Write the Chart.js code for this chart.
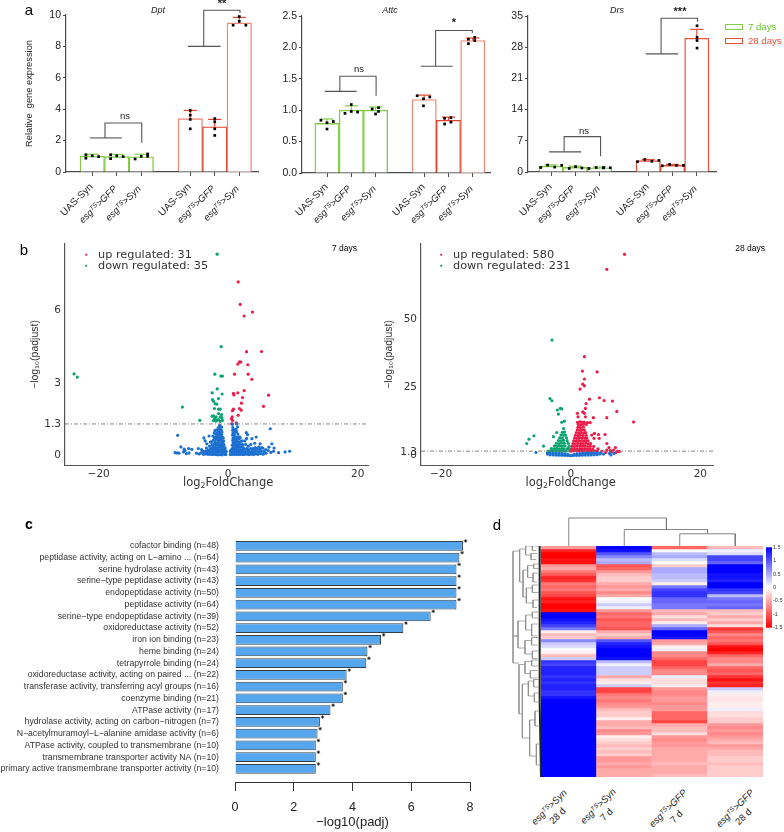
<!DOCTYPE html>
<html>
<head>
<meta charset="utf-8">
<script src="https://cdn.jsdelivr.net/npm/chart.js@4"></script>
<style>
body{margin:0;background:#fff;font-family:"Liberation Sans",sans-serif}
#page{position:relative;width:784px;height:832px;overflow:hidden}
canvas{position:absolute}
.t{position:absolute;white-space:nowrap;line-height:1;color:#222}
.t sup{font-size:.68em;line-height:0;vertical-align:.42em}
.t sub{font-size:.68em;line-height:0;vertical-align:-.25em}
.sw{position:absolute;box-sizing:border-box;border-width:1.5px;border-style:solid}
</style>
</head>
<body>
<div id="page"></div>
<script>
// panel a
const barX = [0, 1, 2, 4, 5, 6];
const barNames = ["UAS-Syn", "esg>GFP", "esg>Syn", "UAS-Syn", "esg>GFP", "esg>Syn"];
const dptBars = [1.0, 0.98, 0.97, 3.4, 2.88, 9.5];
const dptErr = [1.13, 1.12, 1.13, 3.92, 3.35, 9.85];
const dptDots = [[-.26,1.1],[-.26,.88],[0,1.03],[.26,.98],[.75,1.1],[.75,.85],[1,1.03],[1.26,.98],[1.75,.83],[2,1],[2.26,1],[2.26,1.15],[4,3.92],[4,3.62],[4,3.35],[4,2.75],[5,3.4],[5,3.2],[5,2.75],[5,2.33],[5.75,9.35],[6,9.9],[6,9.6],[6.27,9.35]];
const attcBars = [0.79, 1.0, 1.0, 1.17, 0.84, 2.11];
const attcErr = [0.86, 1.07, 1.05, 1.24, 0.89, 2.15];
const attcDots = [[-.25,.84],[0,.8],[0,.7],[.26,.82],[.74,.95],[1,1.09],[1,.98],[1.26,.97],[1.86,1.02],[2.12,1.04],[2.12,.98],[2,.94],[3.71,1.23],[3.97,1.18],[4.23,1.21],[3.97,1.07],[4.84,.87],[5.1,.88],[4.84,.78],[5.1,.81],[5.82,2.13],[6.08,2.16],[5.82,2.06],[6.08,2.11]];
const drsBars = [1.3, 1.05, 0.95, 2.55, 1.5, 30];
const drsErr = [1.6, 1.3, 1.1, 2.8, 1.7, 32];
const drsDots = [[-.42,1],[-.14,1.55],[.15,1.1],[.44,1.5],[.75,.8],[1.01,1.2],[1.27,.9],[1.56,.8],[1.86,1.0],[2.16,1.0],[2.44,.95],[2.16,.9],[3.56,2.3],[3.86,2.8],[4.15,2.4],[4.44,2.6],[4.58,1.4],[4.88,1.7],[5.16,1.5],[5.45,1.5],[6.01,32.8],[6.01,30.2],[6.01,29.5],[6.01,27.8]];

// brackets: base line, then the arm
const dptBrackets = [[[[-.09,2.17],[1.21,2.17]],[[.52,2.17],[.52,3.12],[2.02,3.12],[2.02,1.87]]],[[[3.91,8],[5.24,8]],[[4.55,8],[4.55,10.3],[6.03,10.3],[6.03,10.13]]]];
const attcBrackets = [[[[-.09,1.3],[1.22,1.3]],[[.53,1.3],[.53,1.54],[2.02,1.54],[2.02,1.23]]],[[[3.86,1.7],[5.17,1.7]],[[4.47,1.7],[4.47,2.27],[5.98,2.27],[5.98,2.23]]]];
const drsBrackets = [[[[-.08,4.52],[1.24,4.52]],[[.54,4.52],[.54,7.94],[2.04,7.94],[2.04,3.53]]],[[[3.9,26.5],[5.23,26.5]],[[4.53,26.5],[4.53,34.5],[6.03,34.5],[6.03,33.7]]]];

// panel b, 7 days
const up7 = [[1.55,7.18],[1.86,6.25],[2.47,5.77],[3.76,5.93],[2.84,4.29],[5.15,4.3],[1.75,3.87],[1.96,3.86],[1.49,3.78],[3.04,3.75],[.98,3.36],[3.09,3.36],[3.66,3.15],[2.47,2.68],[.82,2.57],[1.49,2.59],[.88,2.5],[6.24,2.49],[2.22,2.39],[2.06,2.16],[1.75,1.94],[5.46,2.03],[.82,1.91],[.67,1.85],[1.55,1.66],[2.01,1.87],[.62,1.59],[.52,1.52],[1.24,1.34],[.57,1.31],[.67,1.45]];
const down7 = [[-1.7,8.33],[-1.08,4.5],[-2.06,3.36],[-1.13,3.28],[-.88,3.28],[-23.8,3.37],[-23.3,3.24],[-1.7,2.75],[-2.47,2.59],[-.93,2.54],[-1.49,2.35],[-2.42,2.31],[-2.27,2.24],[-2.01,2.14],[-1.75,2.12],[-7.06,2],[-2.11,1.94],[-1.49,1.91],[-1.24,1.91],[-1.49,1.73],[-1.03,1.69],[-2.27,1.63],[-1.86,1.59],[-1.24,1.59],[-2.01,1.52],[-.98,1.56],[-4.38,1.45],[-2.27,1.44],[-1.75,1.45],[-1.49,1.48],[-.88,1.45],[-1.9,1.42],[-1.24,1.41],[-2.1,1.52],[-2.47,1.62]];
const ns7 = [[-.35,.03],[-.42,.11],[-.3,.16],[-.5,.22],[-.45,.3],[-.62,.04],[-.7,.13],[-.66,.24],[-.74,.33],[-.63,.42],[-.78,.5],[-.7,.6],[-.76,.72],[-.95,.02],[-1.02,.12],[-.93,.21],[-1.05,.31],[-.97,.4],[-1.03,.49],[-.94,.59],[-1.06,.68],[-.98,.78],[-1.04,.87],[-.96,.97],[-1.07,1.06],[-1,1.17],[-1.28,.03],[-1.35,.14],[-1.25,.23],[-1.33,.34],[-1.27,.44],[-1.36,.55],[-1.26,.65],[-1.34,.74],[-1.28,.85],[-1.37,.95],[-1.29,1.05],[-1.35,1.15],[-1.3,1.24],[-1.58,.02],[-1.66,.12],[-1.55,.22],[-1.63,.31],[-1.57,.42],[-1.65,.52],[-1.56,.62],[-1.64,.73],[-1.58,.83],[-1.66,.93],[-1.6,1.03],[-1.55,1.14],[-1.88,.03],[-1.96,.13],[-1.85,.23],[-1.94,.33],[-1.87,.43],[-1.97,.54],[-1.89,.66],[-1.95,.76],[-1.9,.88],[-2.2,.04],[-2.28,.14],[-2.18,.25],[-2.26,.36],[-2.21,.47],[-2.5,.03],[-2.58,.12],[-2.46,.2],[-2.55,.3],[-2.49,.42],[-2.8,.05],[-2.88,.15],[-2.76,.26],[-2.9,.38],[-3.1,.04],[-3.2,.13],[-3.05,.22],[-3.4,.06],[-3.5,.18],[-3.35,.3],[-3.8,.04],[-3.9,.16],[-4.2,.1],[-2.95,.8],[-3.75,.72],[-3.55,.6],[-3.3,.48],[-4.6,.28],[-5.6,.25],[-7.8,.83],[-7.3,.35],[-6.8,.26],[-6.1,.28],[-6.45,.07],[-6.05,.1],[-6.65,.2],[-8.2,.11],[-7.6,.09],[-7.9,.1],[-6.9,.14],[-2.6,.55],[-2.3,.62],[-2.15,.72],[-3.6,.07],[-4.1,.24],[-4.5,.06],[-4.9,.09],[-2.35,.8],[-2.15,.92],[-2.05,1.02],[-1.85,1.05],[-2.75,.55],
 [.35,.03],[.42,.1],[.34,.17],[.5,.24],[.62,.04],[.7,.13],[.64,.22],[.74,.32],[.66,.42],[.77,.52],[.7,.62],[.76,.72],[.68,.84],[.75,.94],[.7,1.04],[.72,1.15],[.98,.03],[1.05,.13],[.95,.23],[1.04,.32],[.97,.42],[1.06,.53],[.98,.63],[1.03,.74],[.96,.84],[1.05,.95],[1,1.06],[1.3,.04],[1.37,.14],[1.26,.24],[1.35,.34],[1.28,.44],[1.37,.55],[1.29,.65],[1.36,.76],[1.45,1.18],[1.6,.03],[1.68,.13],[1.57,.23],[1.66,.33],[1.6,.44],[1.68,.55],[1.62,.67],[1.75,.77],[1.92,.04],[2,.14],[1.88,.24],[1.98,.35],[1.9,.46],[2,.58],[2.25,.03],[2.33,.13],[2.2,.22],[2.3,.32],[2.24,.44],[2.55,.04],[2.63,.15],[2.5,.26],[2.8,.94],[3.0,.86],[2.85,.7],[3.66,.69],[4.33,.76],[3.5,.45],[2.9,.05],[2.98,.16],[2.85,.28],[3.2,.03],[3.3,.13],[3.15,.23],[3.55,.05],[3.65,.17],[3.9,.03],[4,.14],[3.85,.28],[4.25,.06],[4.35,.17],[4.2,.32],[4.6,.04],[4.7,.15],[4.95,.48],[5,.07],[5.1,.18],[4.75,.35],[5.4,.05],[5.5,.16],[5.35,.3],[5.85,.09],[5.8,.24],[6.2,.2],[6.3,.34],[6.75,.48],[6.5,1.1],[7.1,.3],[6.6,.12],[7,.17],[7.8,.11],[8.8,.14],[9.5,.17],[1.3,1.3],[.65,1.28],[2.7,.45],[2.6,.6],[3.1,.38],[4.1,.5],[4.5,.28],[1.5,.88],[1.3,.98],[1.2,1.08],[1.85,.72],[2.2,.6],[3.5,.28],[3.1,.14],[3.75,.1],[4.05,.25],[4.9,.25],[5.2,.32],[5.6,.1]];

// panel b, 28 days
const up28 = [[8.3,74],[5.57,68.5],[2.11,36.4],[1.8,31.1],[4.07,30.8],[2.11,28.2],[1.86,26.3],[2.11,25.7],[1.44,24.5],[4.43,21.3],[2.89,20.8],[5.15,20.3],[6.44,20.1],[2.37,19.2],[2.27,17.4],[7.11,16.3],[1.86,16.1],[1.03,15.6],[2.11,15.6],[1.13,14.3],[2.27,14.3],[3.5,14],[5.57,14],[9.69,12.4],[3.25,7.6],[3.66,8.2],[4.28,7.8],[3.6,6.4],[4.38,6.4],[5.57,4.5],[5.3,7.8],[3.0,12.2],[5.4,1.2],[5.57,2.1],[5.9,3.0],[6.9,3],[7.2,1.7],[6.1,1.9],[6.6,2.1],[7.5,1.5],[6.3,1.4],[7,1.2],
 [.12,1.7],[.5,1.8],[.9,1.7],[1.3,1.75],[1.7,1.7],[2.1,1.8],[2.5,1.7],[2.9,1.75],[3.3,1.7],[3.7,1.8],[4.1,1.7],[4.8,1.7],[.18,2.5],[.58,2.4],[.98,2.55],[1.38,2.45],[1.78,2.5],[2.18,2.55],[2.58,2.4],[2.98,2.5],[3.4,2.45],[4.2,2.55],[.25,3.5],[.62,3.4],[1.02,3.55],[1.42,3.45],[1.82,3.5],[2.22,3.55],[2.62,3.4],[3.02,3.5],[3.55,3.45],[.34,4.5],[.72,4.4],[1.12,4.55],[1.52,4.45],[1.92,4.5],[2.32,4.55],[2.72,4.4],[3.08,4.5],[.46,5.5],[.85,5.4],[1.25,5.55],[1.65,5.45],[2.05,5.5],[2.4,5.55],[2.68,5.45],[.57,6.5],[.95,6.4],[1.35,6.55],[1.75,6.45],[2.15,6.5],[2.48,6.55],[.72,7.5],[1.1,7.4],[1.5,7.55],[1.9,7.45],[2.38,7.5],[.86,8.5],[1.25,8.4],[1.65,8.55],[2.05,8.45],[2.3,8.5],[1.02,9.5],[1.42,9.4],[1.78,9.55],[2.1,9.45],[1.12,10.5],[1.5,10.4],[1.98,10.55],[1.16,11.5],[1.55,11.4],[1.95,11.55],[2.4,11.5],[1.05,12.3],[1.4,12.5],[1.75,12.4],[2.1,12.3],[2.6,12.2]];
const down28 = [[-2.89,42.5],[-3.2,21],[-2.9,20.2],[-6.8,4.5],[-6.44,6.1],[-5.67,7.35],[-4.2,3.55],[-2.16,8.5],[-2.68,7],[-.98,12.7],[-1.39,12.3],[-1.9,15.3],[-1.39,17.2],[-2.06,16.8],[-1.6,17.4],[-1.1,10],
 [-3.5,1.7],[-3.1,1.8],[-2.7,1.7],[-2.3,1.75],[-1.9,1.8],[-1.5,1.7],[-1.1,1.75],[-.7,1.7],[-.15,1.7],[-3,2.6],[-2.6,2.5],[-2.2,2.65],[-1.8,2.55],[-1.4,2.6],[-1,2.5],[-.5,2.6],[-.18,2.55],[-2.5,3.6],[-2.1,3.5],[-1.7,3.65],[-1.3,3.55],[-.9,3.6],[-.25,3.5],[-2.2,4.6],[-1.8,4.5],[-1.4,4.65],[-1,4.55],[-.4,4.6],[-1.9,5.6],[-1.5,5.5],[-1.1,5.65],[-.55,5.55],[-1.7,6.6],[-1.3,6.5],[-.65,6.6],[-1.5,7.6],[-1.1,7.55],[-.8,7.6],[-1.3,8.6],[-.95,8.7]];
const ns28 = [[-5.36,1.2],[5.05,.6],[5.98,.85],[6.7,.85],[6.2,.3],[-3.6,.6],[-3.6,1.1],[-3.2,.35],[-3.15,1],[-2.75,.3],[-2.7,1],[-2.3,.25],[-2.25,.95],[-1.85,.2],[-1.8,.85],[-1.4,.15],[-1.35,.8],[-.95,.12],[-.9,.7],[-.5,.1],[-.45,.5],[-.15,.08],[.1,.08],[.45,.1],[.5,.55],[.9,.12],[.95,.7],[1.35,.15],[1.4,.8],[1.8,.2],[1.85,.85],[2.25,.25],[2.3,.95],[2.7,.25],[2.75,.95],[3.15,.3],[3.2,1],[3.6,.35],[3.65,1],[4.05,.4],[4.1,1],[4.5,.6],[4.6,1.05]];

// panel c
const goTerms = ["cofactor binding (n=48)","peptidase activity, acting on L−amino ... (n=64)","serine hydrolase activity (n=43)","serine−type peptidase activity (n=43)","endopeptidase activity (n=50)","peptidase activity (n=64)","serine−type endopeptidase activity (n=39)","oxidoreductase activity (n=52)","iron ion binding (n=23)","heme binding (n=24)","tetrapyrrole binding (n=24)","oxidoreductase activity, acting on paired ... (n=22)","transferase activity, transferring acyl groups (n=16)","coenzyme binding (n=21)","ATPase activity (n=17)","hydrolase activity, acting on carbon−nitrogen (n=7)","N−acetylmuramoyl−L−alanine amidase activity (n=6)","ATPase activity, coupled to transmembrane (n=10)","transmembrane transporter activity NA (n=10)","primary active transmembrane transporter activity (n=10)"];
const goValues = [7.76,7.64,7.54,7.54,7.54,7.54,6.66,5.73,4.97,4.51,4.47,3.8,3.67,3.67,3.25,2.89,2.81,2.75,2.75,2.75];

// panel d
const heatCols = ["esg>Syn 28 d","esg>Syn 7 d","esg>GFP 7 d","esg>GFP 28 d"];
const heatA = [-.6,-1.3,-1.5,-1.5,-1.4,-1.4,-.6,-.5,-.8,-1,-1.3,-1.2,-.8,-.9,-.8,-1,-1.1,-1.4,-1.3,-1.5,-1.5,-1.4,1.5,1.5,1.4,1.3,1.1,.8,-.1,-.4,-.3,.7,.3,.2,0,-.1,-.4,.3,1.2,1.1,1.3,1.3,1.3,1.2,1.3,1.2,1.3,1.3,1.2,1.2,1.4,1.5,1.5,1.5,1.5,1.5,1.5,1.5,1.5,1.5,1.5,1.5,1.5,1.5,1.5,1.5,1.5,1.5,1.5,1.5,1.5,1.5,1.5,1.5,1.5,1.5,1.5];
const heatB = [1.5,1.4,1,.7,.4,.5,-1,-.9,-.6,-.4,-.3,-.3,-.5,-.6,-.5,-.7,-.5,0,.1,.3,.1,-.6,-.9,-.8,-1,-.9,-.9,-1,-.5,-.3,-.5,1,1.3,1.4,1.5,1.5,1.5,1.4,.4,.1,.3,.3,.3,-.5,-.2,-.1,.3,-1.1,-1.1,-.8,-.7,-.8,-.7,-.6,-.4,-.3,-.3,-.1,-.5,-.5,-.4,-.7,-.6,-.1,-.2,-.3,-.4,-.3,-.4,-.3,-.6,-.6,-.5,-.6,-.5,-.5,-.5];
const heatC = [-.9,0,.4,.5,.2,0,-.3,.5,.5,.4,.4,.3,-.1,.8,1.1,1.2,1.2,.9,.9,.8,.8,-.4,-.5,-.2,-.4,-.1,.5,.9,1.5,1.5,1.4,-.6,-.5,-.1,.1,-.7,-.7,-.9,-1.1,-1.1,-.9,-.7,-.7,.1,-.2,-.2,-.1,-.6,-.7,-.7,-.6,-.6,-.7,-.6,-.6,-.9,-.9,-.9,-1.1,-.5,-.4,-.4,-.2,-.6,-.7,-.6,-.6,-.5,-.5,-.5,-.5,-.5,-.4,-.5,-.5,-.5,-.4];
const heatD = [-.4,.1,.2,1.1,1.1,.9,1.5,1.5,1.5,1.4,1.4,1.3,1.5,1.5,1.2,1.1,.4,.8,.9,.8,.9,-.4,-.3,-.5,-.3,-.5,-.2,-1.2,-1,-.7,-.9,-.8,-1,-1.4,-1.5,-1.3,-.9,-.7,-.7,-.5,-.9,-1,-.9,-1.2,-1.4,-1.2,-1.3,.3,.1,-.1,-.15,-.15,-.1,-.1,.1,-.2,-.2,-.3,-.3,-.6,-.7,-.6,-.7,-.6,-.5,-.4,-.6,-.5,-.4,-.4,-.3,-.3,-.4,-.3,-.3,-.3,-.3];
const colorTicks = [1.5, 1, .5, 0, -.5, -1, -1.5];
const topTree = [[[.5,0],[.5,85],[2.26,85],[2.26,50]],[[1.5,0],[1.5,50],[3,50],[3,37]],[[2.5,0],[2.5,37],[3.5,37],[3.5,0]]];
const sideTree = [[0,1.7,30,20,15],[0,30,39,15,18],[20,1,12,38,30],[38,0,3,58,54],[58,0,1.5,76,70],[54,2.5,4.5,74,70],[30,8,17,44,40],[44,6.5,10.5,62,60],[62,6,7.5,78,78],[60,9,12,74,72],[40,14,19,58,60],[58,13,15.5,76,78],[60,18,20.5,76,72],[15,25,34,38,36],[38,23,28,58,56],[58,22,24,76,76],[56,26,30,74,72],[36,31.5,36,56,58],[56,30.5,33,76,74],[58,35,37.5,76,74],[18,39.5,56,36,28],[36,38.5,42.5,56,52],[56,38,40,76,76],[52,41.5,44,74,74],[28,46,64,46,50],[46,45,50,62,64],[62,44.5,47,78,78],[64,49,52,78,80],[50,58,70,66,70],[66,55,60,78,80],[70,66,73,80,82]];
const leafEdge = [[80,0],[80,52],[84,77]];

Chart.defaults.animation = false;
Chart.defaults.font.family = '"Liberation Sans", sans-serif';
Chart.defaults.plugins.legend.display = false;
Chart.defaults.plugins.tooltip.enabled = false;

const page = document.getElementById("page");

// plot = exact plot rectangle on the page, gap = room round it on the canvas
function place(plot, gap, cfg) {
  const c = document.createElement("canvas");
  c.width = plot.r - plot.l + gap.l + gap.r;
  c.height = plot.b - plot.t + gap.t + gap.b;
  c.style.left = (plot.l - gap.l) + "px";
  c.style.top = (plot.t - gap.t) + "px";
  page.appendChild(c);
  cfg.options = cfg.options || {};
  cfg.options.responsive = false;
  cfg.options.layout = {padding: {top: gap.t, right: cfg.options.scales.y.position == "right" ? 0 : gap.r, left: 0, bottom: 0}};
  cfg.options.scales.x.afterFit = s => { s.height = gap.b; };
  cfg.options.scales.y.afterFit = s => { s.width = cfg.options.scales.y.position == "right" ? gap.r : gap.l; };
  const ch = new Chart(c, cfg);
  return ch;
}

function text(html, x, y, o) {
  o = o || {};
  const d = document.createElement("div");
  d.className = "t";
  d.innerHTML = html;
  d.style.left = x + "px";
  d.style.top = y + "px";
  d.style.fontSize = (o.size || 10) + "px";
  if (o.color) d.style.color = o.color;
  if (o.font) d.style.fontFamily = o.font;
  if (o.italic) d.style.fontStyle = "italic";
  if (o.bold) d.style.fontWeight = "bold";
  const ax = o.align == "left" ? "0" : o.align == "right" ? "-100%" : "-50%";
  d.style.transform = "translate(" + ax + ",-50%)";
  page.appendChild(d);
}

// rotated label whose upper right corner sits at x,y
function slant(html, x, y, size, lines) {
  const d = document.createElement("div");
  d.className = "t";
  d.innerHTML = html;
  d.style.cssText += ";left:" + x + "px;top:" + y + "px;font-size:" + size + "px;text-align:" + (lines ? "center" : "right") + ";line-height:1.25;transform-origin:100% 0;transform:translateX(-100%) rotate(-45deg)";
  page.appendChild(d);
}

function pts(list) { return list.map(p => ({x: p[0], y: p[1]})); }
function poly(list, color, width, dash) {
  return {type: "scatter", data: pts(list), showLine: true, borderColor: color, borderWidth: width, borderDash: dash || [], pointRadius: 0, clip: false, order: 1};
}
function axisLine(color, w) { return {display: true, color: color, width: w}; }

const GREEN = "#84cb45", AXIS_A = "#4a4a4a";
const reds = ["#ec8877", "#e0452c", "#ec8877"];

function geneChart(plot, xmin, xmax, ymax, step, bars, err, dots, brackets, fixed, reds2, yTitle) {
  const colors = [GREEN, GREEN, GREEN].concat(reds2);
  const ds = [{type: "scatter", data: pts(dots), pointStyle: "rect", pointRadius: 1.9, backgroundColor: "#000", borderWidth: 0, clip: false, order: 0}];
  barX.forEach((x, i) => {
    const c = i < 3 ? GREEN : reds2[1];
    ds.push(poly([[x, bars[i]], [x, err[i]]], c, 1.2));
    ds.push(poly([[x - .27, err[i]], [x + .27, err[i]]], c, 1.2));
  });
  brackets.forEach(b => { ds.push(poly(b[0], "#555", 1.1)); ds.push(poly(b[1], "#555", 1.1)); });
  ds.push({type: "bar", data: barX.map((x, i) => ({x: x, y: bars[i]})), backgroundColor: "#fff", borderColor: colors, borderWidth: 1.4, barPercentage: 1, categoryPercentage: 1, order: 3});
  const ch = place(plot, {l: yTitle ? 46 : 30, t: plot.t, r: 8, b: 10}, {
    type: "bar",
    data: {datasets: ds},
    options: {scales: {
      x: {type: "linear", min: xmin, max: xmax, offset: false, ticks: {display: false}, grid: {offset: false, drawOnChartArea: false, tickLength: 4, tickColor: AXIS_A, tickWidth: 1}, border: axisLine(AXIS_A, 1.2), afterBuildTicks: s => { s.ticks = barX.map(v => ({value: v})); }},
      y: {min: 0, max: ymax, ticks: {stepSize: step, color: "#222", padding: 2, font: {size: 10.5}, callback: v => v.toFixed(fixed)}, grid: {drawOnChartArea: false, tickLength: 3, tickColor: AXIS_A}, border: axisLine(AXIS_A, 1.2), title: {display: !!yTitle, text: yTitle, color: "#222", font: {size: 9.3}, padding: {top: 4, bottom: 0}}}
    }}
  });
  barX.forEach((x, i) => {
    const px = plot.l - (yTitle ? 46 : 30) + ch.scales.x.getPixelForValue(x);
    if (barNames[i] == "UAS-Syn") slant("UAS-Syn", px - 5, 181, 10);
    else slant('<i>esg<sup>TS</sup>&gt;' + barNames[i].split(">")[1] + '</i>', px - 6, 183, 9.5);
  });
}

geneChart({l: 66, t: 15, r: 258, b: 172}, -1.071, 6.765, 10, 2, dptBars, dptErr, dptDots, dptBrackets, 0, reds, "Relative  gene expression");
geneChart({l: 302, t: 16, r: 490, b: 173}, -1.029, 6.708, 2.5, .5, attcBars, attcErr, attcDots, attcBrackets, 1, reds, "");
geneChart({l: 528, t: 16, r: 716, b: 172}, -.947, 6.79, 35, 7, drsBars, drsErr, drsDots, drsBrackets, 0, ["#e8503a", "#e8503a", "#e8503a"], "");

text("Dpt", 158, 9.5, {size: 9, italic: true});
text("Attc", 390, 9.5, {size: 9, italic: true});
text("Drs", 617, 9.5, {size: 9, italic: true});
text("ns", 125, 116, {size: 9.5});
text("ns", 359, 69, {size: 9.5});
text("ns", 584, 130.5, {size: 9.5});
text("**", 222, 3, {size: 11, bold: true});
text("*", 454, 22, {size: 11, bold: true});
text("***", 680, 11, {size: 11, bold: true});

[[24, GREEN, "7 days", "#6cc02c"], [38, "#e8503a", "28 days", "#e8503a"]].forEach(l => {
  const s = document.createElement("div");
  s.className = "sw";
  s.style.cssText += ";left:725px;top:" + l[0] + "px;width:18px;height:5.5px;border-color:" + l[1];
  page.appendChild(s);
  text(l[2], 748, l[0] + 3, {size: 9.6, align: "left", color: l[3]});
});

const RED_PT = "#ec1c4a", GREEN_PT = "#0ba36e", BLUE_PT = "#1b6fd0", TICK_B = "#333";
const BFONT = '"DejaVu Sans", sans-serif';

function volcano(plot, gapL, xmin, xmax, ymin, ymax, yTicks, up, down, ns, cut) {
  const dots = (list, color) => ({type: "scatter", data: pts(list), pointRadius: 1.6, backgroundColor: color, borderWidth: 0, order: 2});
  const ch = place(plot, {l: gapL, t: 12, r: 6, b: 24}, {
    type: "scatter",
    data: {datasets: [dots(ns, BLUE_PT), dots(up, RED_PT), dots(down, GREEN_PT), poly([[xmin, cut], [xmax, cut]], "#777", .9, [4, 2, 1, 2])]},
    options: {scales: {
      x: {type: "linear", min: xmin, max: xmax, ticks: {color: TICK_B, padding: 3, maxRotation: 0, font: {family: BFONT, size: 10.5}, callback: v => String(v).replace("-", "−")}, grid: {display: true, drawOnChartArea: false, drawTicks: false}, border: axisLine("#555", 1), afterBuildTicks: s => { s.ticks = [-20, 0, 20].map(v => ({value: v})); }},
      y: {min: ymin, max: ymax, ticks: {color: TICK_B, padding: 4, font: {family: BFONT, size: 10.5}, autoSkip: false}, grid: {drawOnChartArea: false, drawTicks: false}, border: axisLine("#555", 1.2), afterBuildTicks: s => { s.ticks = yTicks.map(v => ({value: v})); }, title: {display: true, text: "−log₁₀(padjust)", color: "#333", font: {size: 10.5}, padding: {top: 0, bottom: 0}}}
    }}
  });
  // the x title sits under zero, not under the middle of the axis
  text("log<sub>2</sub>FoldChange", plot.l - gapL + ch.scales.x.getPixelForValue(0), 483, {size: 11.5, font: BFONT, color: "#333"});
}

volcano({l: 65, t: 244, r: 368, b: 465}, 36, -25.2, 21.6, -.4, 8.75, [0, 1.3, 3, 6], up7, down7, ns7, 1.3);
volcano({l: 421, t: 244, r: 713, b: 465}, 38, -23.1, 21.95, -3.4, 77.8, [0, 1.3, 25, 50], up28, down28, ns28, 1.7);

function bLegend(dotX, a, b) {
  [[254, RED_PT, a], [265, GREEN_PT, b]].forEach(l => {
    text("●", dotX, l[0], {size: 5, color: l[1]});
    text(l[2], dotX + 12, l[0] + .5, {size: 11.3, align: "left", font: BFONT, color: "#333"});
  });
}
bLegend(86, "up regulated: 31", "down regulated: 35");
bLegend(441, "up regulated: 580", "down regulated: 231");
text("7 days", 357, 248, {size: 8.5, align: "right", color: "#000"});
text("28 days", 765, 248, {size: 8.5, align: "right", color: "#000"});

// panel c
place({l: 235, t: 540, r: 470, b: 782}, {l: 235, t: 24, r: 14, b: 48}, {
  type: "bar",
  data: {datasets: [
    {type: "scatter", data: goValues.map((v, i) => ({x: v + .09, y: i - .42})), pointStyle: "star", pointRadius: 1.7, borderColor: "#111", borderWidth: .7, clip: false, order: 0},
    {type: "bar", data: goValues.map((v, i) => ({x: v, y: i})), backgroundColor: "#55a6ec", borderColor: "#33414f", borderWidth: 1, barPercentage: .83, categoryPercentage: 1, order: 1}
  ]},
  options: {indexAxis: "y", scales: {
    x: {type: "linear", position: "bottom", min: 0, max: 8, ticks: {stepSize: 2, color: "#222", padding: 9, font: {size: 12.5}}, grid: {drawOnChartArea: false, tickLength: 9, tickColor: "#333"}, border: axisLine("#333", 1), title: {display: true, text: "−log10(padj)", color: "#222", font: {size: 13}, padding: {top: 0, bottom: 0}}},
    y: {type: "linear", reverse: true, offset: false, min: -.5, max: 20.12, ticks: {autoSkip: false, color: "#333", padding: 16, font: {size: 8.7}, callback: v => goTerms[v]}, grid: {display: false, offset: false, drawTicks: false}, border: {display: false}, afterBuildTicks: s => { s.ticks = goTerms.map((t, i) => ({value: i})); }}
  }}
});

// panel d
function heatColor(z) {
  const t = Math.min(1, Math.abs(z) / 1.5), k = Math.round(255 * (1 - t));
  return z >= 0 ? "rgb(" + k + "," + k + ",255)" : "rgb(255," + k + "," + k + ")";
}
place({l: 541, t: 546, r: 763, b: 777}, {l: 0, t: 0, r: 0, b: 0}, {
  type: "bar",
  data: {labels: heatCols, datasets: heatA.map((a, r) => ({
    data: [1, 1, 1, 1],
    backgroundColor: [a, heatB[r], heatC[r], heatD[r]].map(heatColor),
    borderWidth: 0, barPercentage: 1, categoryPercentage: 1
  }))},
  options: {scales: {
    x: {display: false, stacked: true},
    y: {display: false, stacked: true, reverse: true, min: 0, max: heatA.length}
  }}
});
// top and side trees
place({l: 541, t: 518, r: 763, b: 546}, {l: 0, t: 1, r: 0, b: 1}, {
  type: "scatter",
  data: {datasets: topTree.map(t => poly(t, "#777", .9))},
  options: {scales: {x: {display: false, type: "linear", min: 0, max: 4}, y: {display: false, min: 0, max: 85}}}
});
const sideSets = sideTree.map(n => poly([[n[3], n[1]], [n[0], n[1]], [n[0], n[2]], [n[4], n[2]]], "#888", .7));
sideSets.push(poly(leafEdge, "#222", 2));
place({l: 513, t: 546, r: 541, b: 777}, {l: 1, t: 0, r: 0, b: 0}, {
  type: "scatter",
  data: {datasets: sideSets},
  options: {scales: {x: {display: false, type: "linear", min: 0, max: 84}, y: {display: false, reverse: true, min: 0, max: 77}}}
});
// colour bar
place({l: 766, t: 547, r: 772, b: 629}, {l: 0, t: 4, r: 12, b: 3}, {
  type: "bar",
  data: {labels: [""], datasets: [{data: [[-1.5, 1.5]], barPercentage: 1, categoryPercentage: 1, borderWidth: 0, backgroundColor: c => {
    const a = c.chart.chartArea;
    if (!a) return "#fff";
    const g = c.chart.ctx.createLinearGradient(0, a.top, 0, a.bottom);
    g.addColorStop(0, heatColor(1.5)); g.addColorStop(.5, heatColor(0)); g.addColorStop(1, heatColor(-1.5));
    return g;
  }}]},
  options: {scales: {
    x: {display: false},
    y: {position: "right", min: -1.5, max: 1.5, ticks: {color: "#333", padding: 1, font: {size: 5.5}, callback: v => String(v)}, grid: {display: false, drawTicks: false}, border: {display: false}, afterBuildTicks: s => { s.ticks = colorTicks.map(v => ({value: v})); }}
  }}
});

slant('<i>esg<sup>TS</sup>&gt;Syn</i><br>28 d', 561, 787, 9.5, true);
slant('<i>esg<sup>TS</sup>&gt;Syn</i><br>7 d', 610, 786, 9.5, true);
slant('<i>esg<sup>TS</sup>&gt;GFP</i><br>7 d', 681, 787, 9.5, true);
slant('<i>esg<sup>TS</sup>&gt;GFP</i><br>28 d', 748, 787, 9.5, true);

text("a", 29, 9, {size: 15, color: "#000"});
text("b", 24, 249, {size: 15, color: "#000"});
text("c", 29, 524, {size: 14, bold: true, color: "#000"});
text("d", 497, 524, {size: 15, color: "#000"});
</script>
</body>
</html>
